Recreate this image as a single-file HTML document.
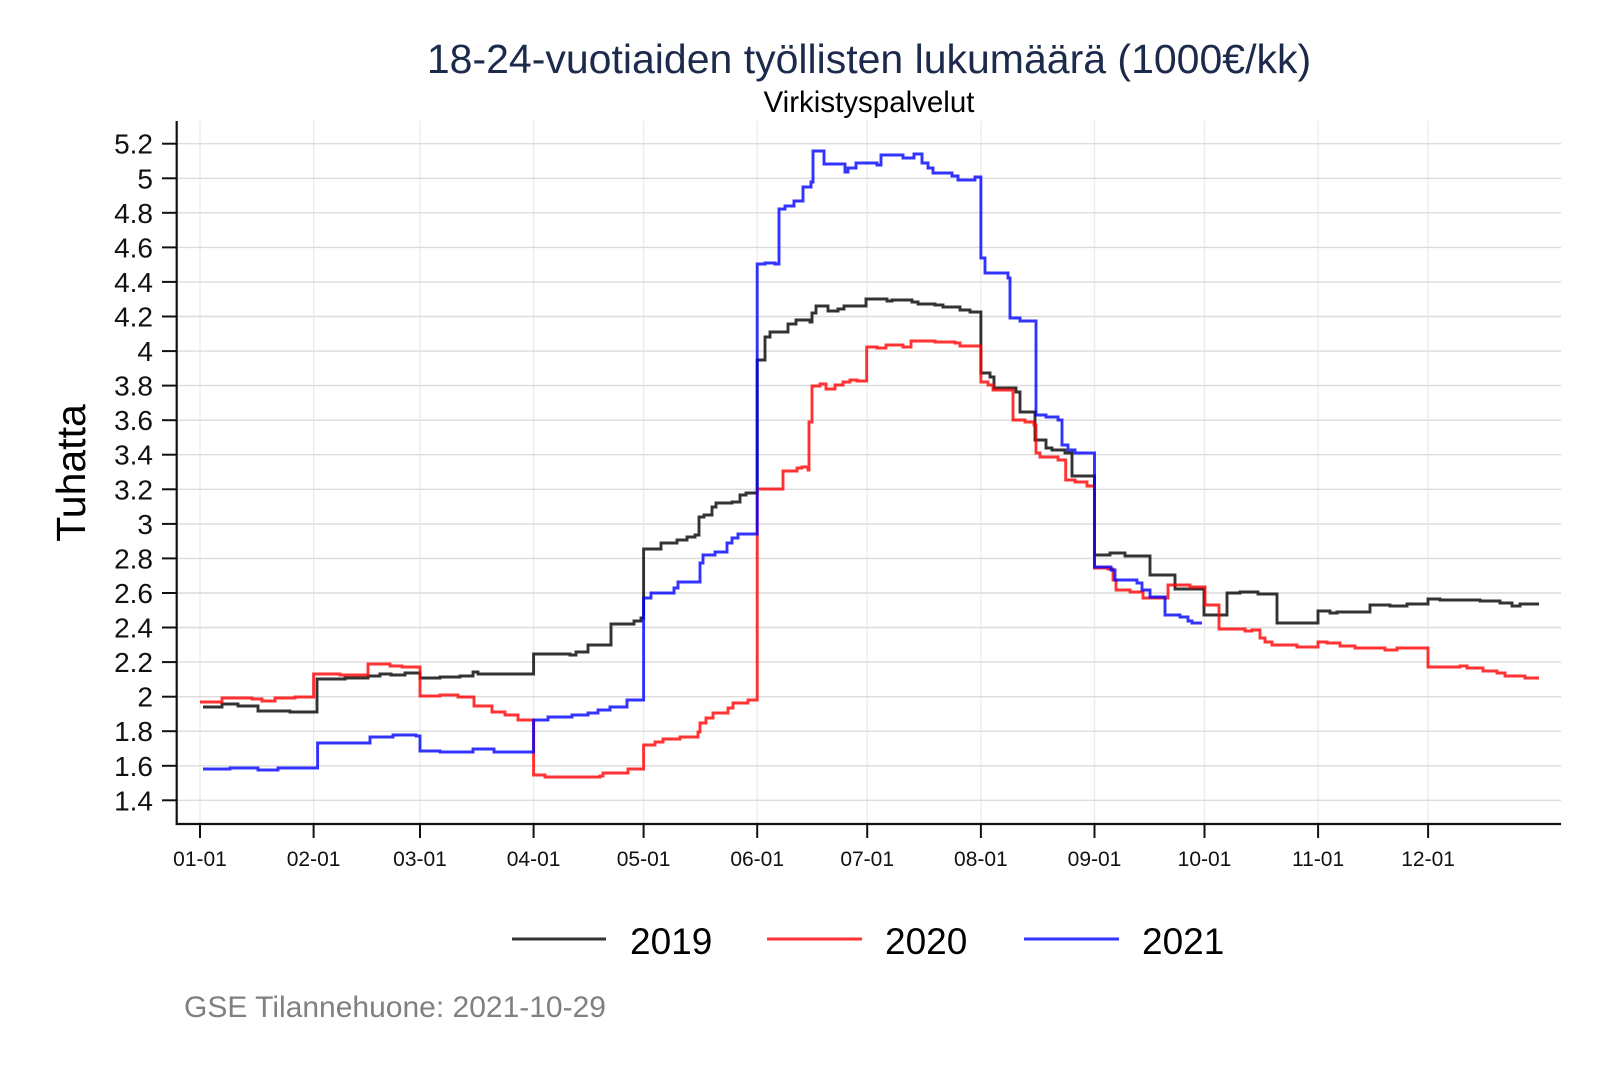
<!DOCTYPE html>
<html>
<head>
<meta charset="utf-8">
<style>
html,body{margin:0;padding:0;background:#fff;}
svg{display:block;}
text{font-family:"Liberation Sans",Arial,sans-serif;}
</style>
</head>
<body>
<svg width="1600" height="1067" viewBox="0 0 1600 1067" xmlns="http://www.w3.org/2000/svg">
<rect width="1600" height="1067" fill="#fff"/>

<!-- vertical grid -->
<g stroke="#ececec" stroke-width="1.4">
<line x1="200" y1="121" x2="200" y2="824"/>
<line x1="313.6" y1="121" x2="313.6" y2="824"/>
<line x1="420" y1="121" x2="420" y2="824"/>
<line x1="533.6" y1="121" x2="533.6" y2="824"/>
<line x1="643.6" y1="121" x2="643.6" y2="824"/>
<line x1="757.2" y1="121" x2="757.2" y2="824"/>
<line x1="867.2" y1="121" x2="867.2" y2="824"/>
<line x1="980.9" y1="121" x2="980.9" y2="824"/>
<line x1="1094.5" y1="121" x2="1094.5" y2="824"/>
<line x1="1204.5" y1="121" x2="1204.5" y2="824"/>
<line x1="1318.1" y1="121" x2="1318.1" y2="824"/>
<line x1="1428.1" y1="121" x2="1428.1" y2="824"/>
</g>
<!-- horizontal grid -->
<g stroke="#dcdcdc" stroke-width="1.4">
<line x1="177" y1="143.7" x2="1561" y2="143.7"/>
<line x1="177" y1="178.3" x2="1561" y2="178.3"/>
<line x1="177" y1="212.8" x2="1561" y2="212.8"/>
<line x1="177" y1="247.4" x2="1561" y2="247.4"/>
<line x1="177" y1="281.9" x2="1561" y2="281.9"/>
<line x1="177" y1="316.5" x2="1561" y2="316.5"/>
<line x1="177" y1="351.1" x2="1561" y2="351.1"/>
<line x1="177" y1="385.6" x2="1561" y2="385.6"/>
<line x1="177" y1="420.2" x2="1561" y2="420.2"/>
<line x1="177" y1="454.7" x2="1561" y2="454.7"/>
<line x1="177" y1="489.3" x2="1561" y2="489.3"/>
<line x1="177" y1="523.9" x2="1561" y2="523.9"/>
<line x1="177" y1="558.4" x2="1561" y2="558.4"/>
<line x1="177" y1="593.0" x2="1561" y2="593.0"/>
<line x1="177" y1="627.5" x2="1561" y2="627.5"/>
<line x1="177" y1="662.1" x2="1561" y2="662.1"/>
<line x1="177" y1="696.7" x2="1561" y2="696.7"/>
<line x1="177" y1="731.2" x2="1561" y2="731.2"/>
<line x1="177" y1="765.8" x2="1561" y2="765.8"/>
<line x1="177" y1="800.3" x2="1561" y2="800.3"/>
</g>

<!-- series -->
<g fill="none" stroke-width="2.9" stroke-linejoin="miter" stroke-opacity="0.8">
<polyline stroke="#000" points="203,707 222,707 222,704 238,704 238,706 258,706 258,711 290,711 290,712 317,712 317,679 345,679 345,678 368,678 368,676 380,676 380,674 391,674 391,675 405,675 405,673 420,673 420,678 440,678 440,677 460,677 460,676 473,676 473,672 478,672 478,674 533.6,674 533.6,654 570,654 570,655 576,655 576,652 588,652 588,645 611,645 611,624 634,624 634,621 641,621 641,618 643.6,618 643.6,549 661,549 661,543 677,543 677,540 687,540 687,537 695,537 695,535 699,535 699,517 704,517 704,515 712,515 712,507 716,507 716,503 732,503 732,502 740,502 740,495 746,495 746,493 757.2,493 757.2,360 765,360 765,337 770,337 770,332 788,332 788,324 796,324 796,320 810,320 810,322 812,322 812,313 816,313 816,306 828,306 828,311 838,311 838,309 844,309 844,306 866,306 866,299 887,299 887,301 892,301 892,300 912,300 912,302 918,302 918,304 935,304 935,305 943,305 943,307 960,307 960,310 970,310 970,312 980.9,312 980.9,373 990,373 990,377 994,377 994,388 1016,388 1016,392 1020,392 1020,412 1035,412 1035,440 1046,440 1046,448 1052,448 1052,450 1065,450 1065,453 1072,453 1072,476 1094.5,476 1094.5,555 1110,555 1110,553 1125,553 1125,556 1150,556 1150,575 1175,575 1175,589 1204,589 1204,615 1227,615 1227,593 1240,593 1240,592 1258,592 1258,594 1277,594 1277,623 1318,623 1318,611 1330,611 1330,613 1337,613 1337,612 1370,612 1370,605 1390,605 1390,606 1407,606 1407,604 1428,604 1428,599 1440,599 1440,600 1480,600 1480,601 1500,601 1500,603 1512,603 1512,606 1520,606 1520,604 1539,604"/>
<polyline stroke="#ff0000" points="200,702 222,702 222,698 252,698 252,699 262,699 262,701 275,701 275,698 295,698 295,697 313.6,697 313.6,674 340,674 340,675 368,675 368,664 390,664 390,666 402,666 402,667 420,667 420,696 440,696 440,695 458,695 458,697 474,697 474,706 492,706 492,712 505,712 505,715 518,715 518,720 533.6,720 533.6,775 545,775 545,777 600,777 600,776 603,776 603,773 628,773 628,769 643.6,769 643.6,745 655,745 655,742 663,742 663,739 680,739 680,737 698,737 698,732 700,732 700,723 706,723 706,718 713,718 713,713 728,713 728,708 733,708 733,703 748,703 748,700 757.2,700 757.2,489 783,489 783,471 797,471 797,468 802,468 802,467 808,467 808,470 809,470 809,422 812,422 812,386 820,386 820,384 826,384 826,389 835,389 835,385 843,385 843,382 850,382 850,380 857,380 857,381 866.7,381 866.7,347 877,347 877,348 886,348 886,345 903,345 903,347 911,347 911,341 935,341 935,342 955,342 955,343 960,343 960,346 980.9,346 980.9,382 988,382 988,385 993,385 993,390 1013,390 1013,420 1025,420 1025,422 1034,422 1034,425 1036,425 1036,453 1040,453 1040,457 1058,457 1058,460 1065.7,460 1065.7,480 1075,480 1075,482 1087,482 1087,486 1094.5,486 1094.5,568 1108,568 1108,569 1113,569 1113,580 1116,580 1116,590 1130,590 1130,592 1143,592 1143,598 1168,598 1168,585 1190,585 1190,587 1205,587 1205,605 1219,605 1219,629 1245,629 1245,631 1252,631 1252,630 1260,630 1260,638 1265,638 1265,642 1272,642 1272,645 1297,645 1297,647 1318,647 1318,642 1327,642 1327,643 1340,643 1340,646 1355,646 1355,648 1385,648 1385,650 1397,650 1397,648 1428,648 1428,667 1460,667 1460,666 1467,666 1467,668 1483,668 1483,671 1497,671 1497,673 1505,673 1505,676 1525,676 1525,678 1539,678"/>
<polyline stroke="#0000ff" points="203,769 230,769 230,768 258,768 258,770 278,770 278,768 317.6,768 317.6,743 370,743 370,737 393,737 393,735 416,735 416,736 420,736 420,751 440,751 440,752 473,752 473,749 494,749 494,752 533.6,752 533.6,720 548,720 548,717 572,717 572,715 588,715 588,713 598,713 598,710 610,710 610,707 627,707 627,700 643.6,700 643.6,598 651,598 651,593 674,593 674,588 678,588 678,582 700,582 700,563 703,563 703,555 715,555 715,552 727,552 727,543 732,543 732,538 738,538 738,534 757.2,534 757.2,264 765,264 765,263 775,263 775,264 779,264 779,209 785,209 785,206 794,206 794,201 803,201 803,187 811,187 811,182 813,182 813,151 824,151 824,164 845,164 845,172 848,172 848,168 856,168 856,163 877,163 877,165 881,165 881,155 903,155 903,158 914,158 914,154 922,154 922,163 928,163 928,168 933,168 933,173 952,173 952,176 958,176 958,180 975,180 975,177 980.9,177 980.9,258 985,258 985,273 1008,273 1008,278 1010,278 1010,318 1020,318 1020,321 1036,321 1036,415 1046,415 1046,417 1058,417 1058,420 1062,420 1062,445 1068,445 1068,450 1075,450 1075,453 1094.5,453 1094.5,567 1111,567 1111,570 1115,570 1115,580 1137,580 1137,583 1142,583 1142,590 1150,590 1150,597 1165,597 1165,615 1180,615 1180,617 1188,617 1188,621 1192,621 1192,623 1202,623"/>
</g>

<!-- axes -->
<g stroke="#111" stroke-width="2.2">
<line x1="176.7" y1="121" x2="176.7" y2="825"/>
<line x1="175.6" y1="824" x2="1561" y2="824"/>
</g>
<!-- y ticks -->
<g stroke="#111" stroke-width="2">
<line x1="162" y1="143.7" x2="176" y2="143.7"/>
<line x1="162" y1="178.3" x2="176" y2="178.3"/>
<line x1="162" y1="212.8" x2="176" y2="212.8"/>
<line x1="162" y1="247.4" x2="176" y2="247.4"/>
<line x1="162" y1="281.9" x2="176" y2="281.9"/>
<line x1="162" y1="316.5" x2="176" y2="316.5"/>
<line x1="162" y1="351.1" x2="176" y2="351.1"/>
<line x1="162" y1="385.6" x2="176" y2="385.6"/>
<line x1="162" y1="420.2" x2="176" y2="420.2"/>
<line x1="162" y1="454.7" x2="176" y2="454.7"/>
<line x1="162" y1="489.3" x2="176" y2="489.3"/>
<line x1="162" y1="523.9" x2="176" y2="523.9"/>
<line x1="162" y1="558.4" x2="176" y2="558.4"/>
<line x1="162" y1="593.0" x2="176" y2="593.0"/>
<line x1="162" y1="627.5" x2="176" y2="627.5"/>
<line x1="162" y1="662.1" x2="176" y2="662.1"/>
<line x1="162" y1="696.7" x2="176" y2="696.7"/>
<line x1="162" y1="731.2" x2="176" y2="731.2"/>
<line x1="162" y1="765.8" x2="176" y2="765.8"/>
<line x1="162" y1="800.3" x2="176" y2="800.3"/>
</g>
<!-- x ticks -->
<g stroke="#111" stroke-width="2">
<line x1="200" y1="824" x2="200" y2="838"/>
<line x1="313.6" y1="824" x2="313.6" y2="838"/>
<line x1="420" y1="824" x2="420" y2="838"/>
<line x1="533.6" y1="824" x2="533.6" y2="838"/>
<line x1="643.6" y1="824" x2="643.6" y2="838"/>
<line x1="757.2" y1="824" x2="757.2" y2="838"/>
<line x1="867.2" y1="824" x2="867.2" y2="838"/>
<line x1="980.9" y1="824" x2="980.9" y2="838"/>
<line x1="1094.5" y1="824" x2="1094.5" y2="838"/>
<line x1="1204.5" y1="824" x2="1204.5" y2="838"/>
<line x1="1318.1" y1="824" x2="1318.1" y2="838"/>
<line x1="1428.1" y1="824" x2="1428.1" y2="838"/>
</g>

<!-- y tick labels -->
<g font-size="28" fill="#111" text-anchor="end">
<text x="153" y="153.7">5.2</text>
<text x="153" y="188.3">5</text>
<text x="153" y="222.8">4.8</text>
<text x="153" y="257.4">4.6</text>
<text x="153" y="291.9">4.4</text>
<text x="153" y="326.5">4.2</text>
<text x="153" y="361.1">4</text>
<text x="153" y="395.6">3.8</text>
<text x="153" y="430.2">3.6</text>
<text x="153" y="464.7">3.4</text>
<text x="153" y="499.3">3.2</text>
<text x="153" y="533.9">3</text>
<text x="153" y="568.4">2.8</text>
<text x="153" y="603.0">2.6</text>
<text x="153" y="637.5">2.4</text>
<text x="153" y="672.1">2.2</text>
<text x="153" y="706.7">2</text>
<text x="153" y="741.2">1.8</text>
<text x="153" y="775.8">1.6</text>
<text x="153" y="810.3">1.4</text>
</g>

<!-- x tick labels -->
<g font-size="21" fill="#111" text-anchor="middle">
<text x="200" y="866">01-01</text>
<text x="313.6" y="866">02-01</text>
<text x="420" y="866">03-01</text>
<text x="533.6" y="866">04-01</text>
<text x="643.6" y="866">05-01</text>
<text x="757.2" y="866">06-01</text>
<text x="867.2" y="866">07-01</text>
<text x="980.9" y="866">08-01</text>
<text x="1094.5" y="866">09-01</text>
<text x="1204.5" y="866">10-01</text>
<text x="1318.1" y="866">11-01</text>
<text x="1428.1" y="866">12-01</text>
</g>

<!-- y axis title -->
<text transform="translate(85,473) rotate(-90)" text-anchor="middle" font-size="41" fill="#000">Tuhatta</text>

<!-- title -->
<text x="869" y="73" text-anchor="middle" font-size="41" fill="#1c2a4c">18-24-vuotiaiden työllisten lukumäärä (1000€/kk)</text>
<text x="869" y="112" text-anchor="middle" font-size="29.5" fill="#000">Virkistyspalvelut</text>

<!-- legend -->
<g stroke-width="3" stroke-opacity="0.8">
<line x1="512" y1="939" x2="606" y2="939" stroke="#000"/>
<line x1="767" y1="939" x2="862" y2="939" stroke="#ff0000"/>
<line x1="1024" y1="939" x2="1119" y2="939" stroke="#0000ff"/>
</g>
<g font-size="37" fill="#000">
<text x="630" y="954">2019</text>
<text x="885" y="954">2020</text>
<text x="1142" y="954">2021</text>
</g>

<!-- caption -->
<text x="184" y="1017" font-size="30" fill="#808080">GSE Tilannehuone: 2021-10-29</text>
</svg>
</body>
</html>
